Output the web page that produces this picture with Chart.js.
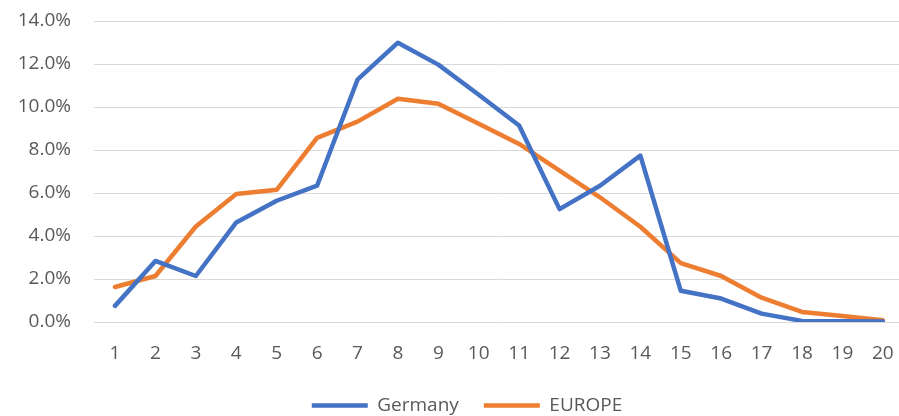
<!DOCTYPE html>
<html>
<head>
<meta charset="utf-8">
<script src="https://cdn.jsdelivr.net/npm/chart.js@4/dist/chart.umd.min.js"></script>
<style>
  html, body { margin: 0; padding: 0; background: #fff; }
  #wrap { width: 899px; height: 416px; }
</style>
</head>
<body>
<div id="wrap"><canvas id="chart" width="899" height="416"></canvas></div>
<script>
// --- data (percent) ---
const categories = ['1','2','3','4','5','6','7','8','9','10','11','12','13','14','15','16','17','18','19','20'];
const germany = [0.75, 2.84, 2.14, 4.63, 5.64, 6.34, 11.27, 12.99, 11.97, 10.57, 9.14, 5.25, 6.34, 7.74, 1.45, 1.09, 0.39, 0.05, 0.03, 0.02];
const europe = [1.63, 2.14, 4.44, 5.95, 6.15, 8.56, 9.32, 10.38, 10.15, 9.22, 8.28, 7.04, 5.80, 4.43, 2.74, 2.14, 1.13, 0.47, 0.28, 0.08];
const yTicks = [0, 2, 4, 6, 8, 10, 12, 14];

const textColor = '#595959';
const font = { family: '"Open Sans", "Liberation Sans", sans-serif', size: 19 };

// points on a numeric x axis so the spacing can match the original
const points = values => categories.map((c, i) => ({ x: Number(c), y: values[i] }));

const line = (label, data, color) => ({
    label,
    data: points(data),
    borderColor: color,
    backgroundColor: color,
    borderWidth: 4.5,
    borderCapStyle: 'round',
    borderJoinStyle: 'round',
    pointRadius: 0,
    tension: 0
});

// nudge the legend a bit to the right, like the original
const legendShift = {
    id: 'legendShift',
    afterLayout(chart) {
        if (chart.legend) chart.legend.left += 35;
    }
};

new Chart(document.getElementById('chart'), {
    type: 'line',
    data: {
        datasets: [
            line('Germany', germany, '#4472C4'),
            line('EUROPE', europe, '#ED7D31')
        ]
    },
    plugins: [legendShift],
    options: {
        responsive: false,
        animation: false,
        layout: { padding: { top: 21, left: 0, right: 0, bottom: -9 } },
        plugins: {
            tooltip: { enabled: false },
            legend: {
                position: 'bottom',
                labels: {
                    color: textColor,
                    font,
                    padding: 25,
                    usePointStyle: true,
                    pointStyle: 'line',
                    pointStyleWidth: 56
                }
            }
        },
        scales: {
            x: {
                type: 'linear',
                min: 0.48,
                max: 20.4,
                afterBuildTicks: axis => { axis.ticks = categories.map(c => ({ value: Number(c) })); },
                grid: { display: false },
                border: { display: false },
                ticks: {
                    color: textColor, font, padding: 12, maxRotation: 0, autoSkip: false,
                    callback: (v, i) => categories[i]
                },
                afterFit: axis => {
                    axis.height = 49;
                    axis.paddingLeft = 0;
                    axis.paddingRight = 0;
                }
            },
            y: {
                min: 0,
                max: 14,
                afterBuildTicks: axis => { axis.ticks = yTicks.map(v => ({ value: v })); },
                grid: { color: '#D9D9D9', lineWidth: 1, drawTicks: false },
                border: { display: false },
                ticks: {
                    color: textColor, font, padding: 23,
                    callback: v => v.toFixed(1) + '%'
                },
                afterFit: axis => {
                    axis.width = 94;
                    // keep the tick padding from pushing the plot down
                    axis.paddingTop = 0;
                    axis.paddingBottom = 0;
                }
            }
        }
    }
});
</script>
</body>
</html>
